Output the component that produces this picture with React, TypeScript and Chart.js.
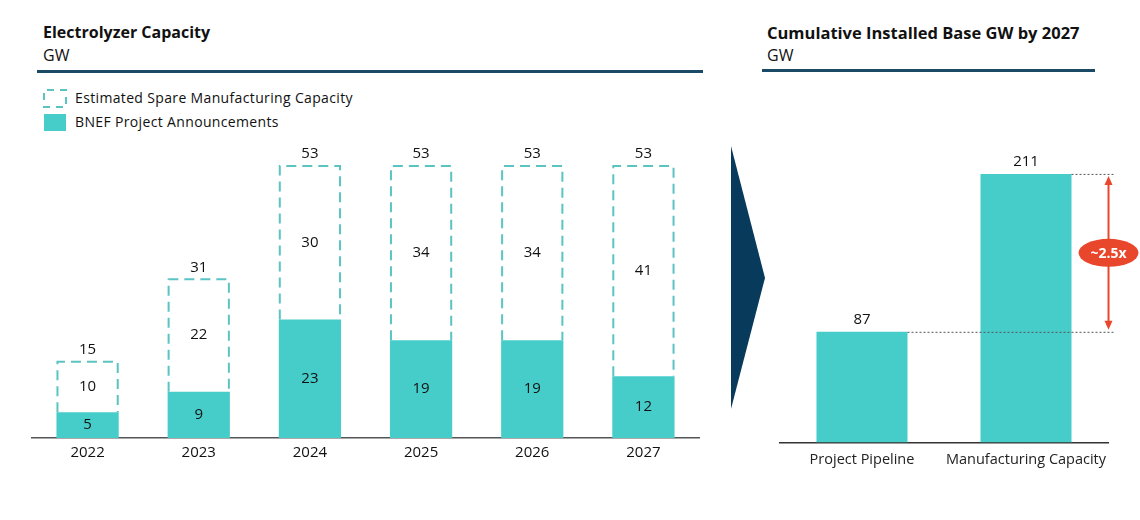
import React, { useEffect, useRef } from "react";
import { Chart, registerables } from "chart.js";

Chart.register(...registerables);

const years = ["2022", "2023", "2024", "2025", "2026", "2027"];
const bnefAnnouncements = [5, 9, 23, 19, 19, 12];
const spareCapacity = [10, 22, 30, 34, 34, 41];
const totalCapacity = [15, 31, 53, 53, 53, 53];

const cumCategories = ["Project Pipeline", "Manufacturing Capacity"];
const cumValues = [87, 211];
const multipleLabel = "~2.5x";

const TEAL = "#46cdca";
const DASH_TEAL = "#5cc3c3";
const NAVY = "#1b4a66";
const RED = "#e9472b";
const FONT = "'Open Sans', 'DejaVu Sans', sans-serif";

const leftLabels = {
  id: "leftLabels",
  afterDatasetsDraw(chart: any) {
    const ctx = chart.ctx;
    const base = chart.getDatasetMeta(0).data;
    const spare = chart.getDatasetMeta(1).data;
    ctx.save();
    ctx.strokeStyle = DASH_TEAL;
    ctx.lineWidth = 2;
    ctx.setLineDash([10, 6]);
    spare.forEach((el: any) => {
      const l = el.x - el.width / 2 + 1;
      const r = el.x + el.width / 2 - 1;
      const t = el.y + 1;
      const b = el.base;
      ctx.beginPath();
      ctx.moveTo(l, b);
      ctx.lineTo(l, t);
      ctx.lineTo(r, t);
      ctx.lineTo(r, b);
      ctx.stroke();
    });
    ctx.setLineDash([]);
    ctx.fillStyle = "#111";
    ctx.font = `15px ${FONT}`;
    ctx.textAlign = "center";
    ctx.textBaseline = "middle";
    base.forEach((el: any, i: number) => {
      ctx.fillText(String(bnefAnnouncements[i]), el.x, (el.y + el.base) / 2);
    });
    spare.forEach((el: any, i: number) => {
      ctx.fillText(String(spareCapacity[i]), el.x, (el.y + el.base) / 2);
      ctx.fillText(String(totalCapacity[i]), el.x, el.y - 11);
    });
    ctx.restore();
  },
};

const rightLabels = {
  id: "rightLabels",
  afterDatasetsDraw(chart: any) {
    const ctx = chart.ctx;
    const bars = chart.getDatasetMeta(0).data;
    const lo = bars[0];
    const hi = bars[1];
    const ax = hi.x + hi.width / 2 + 37;
    const lineEnd = ax + 6;
    ctx.save();
    ctx.fillStyle = "#111";
    ctx.font = `15px ${FONT}`;
    ctx.textAlign = "center";
    ctx.textBaseline = "middle";
    bars.forEach((el: any, i: number) => {
      ctx.fillText(String(cumValues[i]), el.x, el.y - 12);
    });
    ctx.strokeStyle = "#555";
    ctx.lineWidth = 1;
    ctx.setLineDash([2, 2]);
    ctx.beginPath();
    ctx.moveTo(lo.x + lo.width / 2, lo.y + 0.5);
    ctx.lineTo(lineEnd, lo.y + 0.5);
    ctx.moveTo(hi.x + hi.width / 2, hi.y + 0.5);
    ctx.lineTo(lineEnd, hi.y + 0.5);
    ctx.stroke();
    ctx.setLineDash([]);
    ctx.strokeStyle = RED;
    ctx.fillStyle = RED;
    ctx.lineWidth = 2;
    const top = hi.y + 2;
    const bot = lo.y - 2;
    ctx.beginPath();
    ctx.moveTo(ax, top + 6);
    ctx.lineTo(ax, bot - 6);
    ctx.stroke();
    ctx.beginPath();
    ctx.moveTo(ax, top);
    ctx.lineTo(ax - 4, top + 9);
    ctx.lineTo(ax + 4, top + 9);
    ctx.closePath();
    ctx.fill();
    ctx.beginPath();
    ctx.moveTo(ax, bot);
    ctx.lineTo(ax - 4, bot - 9);
    ctx.lineTo(ax + 4, bot - 9);
    ctx.closePath();
    ctx.fill();
    const cy = (top + bot) / 2;
    ctx.beginPath();
    ctx.ellipse(ax, cy, 30, 14, 0, 0, Math.PI * 2);
    ctx.fill();
    ctx.fillStyle = "#fff";
    ctx.font = `bold 14px ${FONT}`;
    ctx.fillText(multipleLabel, ax, cy + 1);
    ctx.restore();
  },
};

export default function App() {
  const leftRef = useRef<HTMLCanvasElement>(null);
  const rightRef = useRef<HTMLCanvasElement>(null);

  useEffect(() => {
    const left = new Chart(leftRef.current!, {
      type: "bar",
      data: {
        labels: years,
        datasets: [
          {
            label: "BNEF Project Announcements",
            data: bnefAnnouncements,
            backgroundColor: TEAL,
            borderWidth: 0,
            barPercentage: 0.56,
            categoryPercentage: 1,
          },
          {
            label: "Estimated Spare Manufacturing Capacity",
            data: spareCapacity,
            backgroundColor: "rgba(0,0,0,0)",
            borderWidth: 0,
            barPercentage: 0.56,
            categoryPercentage: 1,
          },
        ],
      },
      options: {
        animation: false,
        responsive: false,
        maintainAspectRatio: false,
        layout: { padding: { left: 32, right: 21, top: 9, bottom: 7 } },
        plugins: { legend: { display: false }, tooltip: { enabled: false } },
        scales: {
          x: {
            stacked: true,
            grid: { display: false, drawTicks: false },
            border: { display: true, color: "#555", width: 1.5 },
            ticks: { color: "#111", font: { size: 15, family: FONT }, padding: 6, maxRotation: 0, minRotation: 0, autoSkip: false },
          },
          y: {
            stacked: true,
            display: false,
            min: 0,
            max: 60,
          },
        },
      },
      plugins: [leftLabels],
    });

    const right = new Chart(rightRef.current!, {
      type: "bar",
      data: {
        labels: cumCategories,
        datasets: [
          {
            label: "GW",
            data: cumValues,
            backgroundColor: TEAL,
            borderWidth: 0,
            barPercentage: 0.555,
            categoryPercentage: 1,
          },
        ],
      },
      options: {
        animation: false,
        responsive: false,
        maintainAspectRatio: false,
        layout: { padding: { left: 20, right: 32, top: 7, bottom: 8 } },
        plugins: { legend: { display: false }, tooltip: { enabled: false } },
        scales: {
          x: {
            grid: { display: false, drawTicks: false },
            border: { display: true, color: "#333", width: 1.5 },
            ticks: { color: "#222", font: { size: 14.5, family: FONT }, padding: 9, maxRotation: 0, minRotation: 0, autoSkip: false },
          },
          y: { display: false, min: 0, max: 240 },
        },
      },
      plugins: [rightLabels],
    });

    return () => {
      left.destroy();
      right.destroy();
    };
  }, []);

  const abs = (x: number, y: number): React.CSSProperties => ({
    position: "absolute",
    left: x,
    top: y,
  });

  return (
    <div
      style={{
        position: "absolute",
        left: 0,
        top: 0,
        width: 1140,
        height: 520,
        background: "#fff",
        fontFamily: FONT,
        color: "#111",
        overflow: "hidden",
        whiteSpace: "nowrap",
      }}
    >
      <div style={{ ...abs(43, 21), fontWeight: 700, fontSize: 16 }}>Electrolyzer Capacity</div>
      <div style={{ ...abs(43, 44), fontSize: 16 }}>GW</div>
      <div style={{ ...abs(37, 70), width: 666, height: 3, background: NAVY }} />

      <svg style={abs(43, 89)} width={24} height={19}>
        <rect x={1} y={1} width={22} height={17} fill="none" stroke={DASH_TEAL} strokeWidth={2} strokeDasharray="7 6" strokeDashoffset={-3} />
      </svg>
      <div style={{ ...abs(75, 88), fontSize: 14, letterSpacing: 0.35 }}>Estimated Spare Manufacturing Capacity</div>
      <div style={{ ...abs(44, 114), width: 22, height: 17, background: TEAL }} />
      <div style={{ ...abs(75, 112), fontSize: 14, letterSpacing: 0.35 }}>BNEF Project Announcements</div>

      <canvas ref={leftRef} width={720} height={355} style={abs(0, 120)} />

      <svg style={abs(725, 140)} width={50} height={275}>
        <polygon points="6,6 40,138 6,269" fill="#083a5c" />
      </svg>

      <div style={{ ...abs(767, 21), fontWeight: 700, fontSize: 16.5 }}>Cumulative Installed Base GW by 2027</div>
      <div style={{ ...abs(767, 44), fontSize: 16 }}>GW</div>
      <div style={{ ...abs(762, 69), width: 333, height: 3, background: NAVY }} />

      <canvas ref={rightRef} width={380} height={356} style={abs(760, 130)} />
    </div>
  );
}
